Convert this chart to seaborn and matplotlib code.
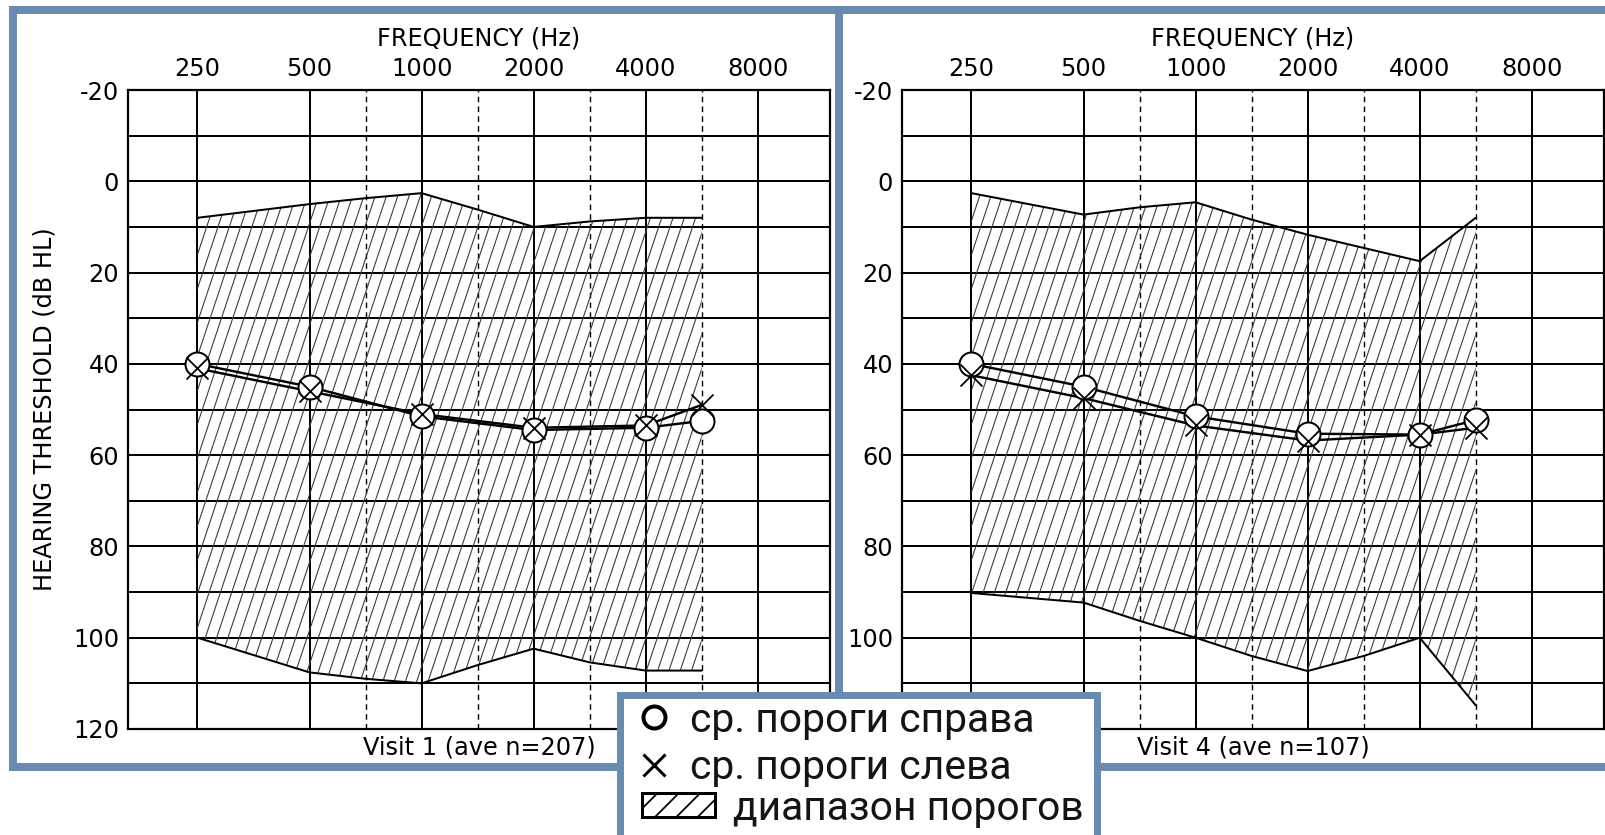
import numpy as np
import matplotlib
matplotlib.use("Agg")
import matplotlib.pyplot as plt
import seaborn as sns
from matplotlib.collections import LineCollection
from matplotlib.lines import Line2D
from matplotlib.patches import Rectangle, Patch
from matplotlib.ticker import FixedLocator, FixedFormatter, NullFormatter, NullLocator
from matplotlib import font_manager as fm

# ---------------- data ----------------
octave_freqs = [250, 500, 1000, 2000, 4000, 8000]
octave_labels = ["250", "500", "1000", "2000", "4000", "8000"]
mid_freqs = [750, 1500, 3000, 6000]
db_ticks = list(range(-20, 121, 10))
db_labels = ["-20", "", "0", "", "20", "", "40", "", "60", "", "80", "", "100", "", "120"]

range_freqs = [250, 500, 750, 1000, 1500, 2000, 3000, 4000, 6000]
visit1_best = [8, 5, 3.7, 2.6, 6.2, 10, 8.8, 8, 8]
visit1_worst = [100, 107.6, 109, 110, 106, 102.4, 105.4, 107.2, 107.2]
visit4_best = [2.6, 7.3, 5.7, 4.6, 8.4, 11.7, 14.6, 17.5, 8]
visit4_worst = [90.2, 92.3, 96.3, 100, 104, 107.3, 104, 100, 114.8]

mean_freqs = [250, 500, 1000, 2000, 4000, 6000]
visit1_right = [40, 45, 51.5, 54.5, 54, 52.5]
visit1_left = [41, 46, 51, 54, 53.5, 49]
visit4_right = [40, 45, 51.5, 55.3, 55.5, 52.3]
visit4_left = [42.5, 47.5, 53.5, 56.8, 55.5, 54]

visit_titles = ["Visit 1 (ave n=207)", "Visit 4 (ave n=107)"]
x_title = "FREQUENCY (Hz)"
y_title = "HEARING THRESHOLD (dB HL)"
legend_labels = ["ср. пороги справа", "ср. пороги слева", "диапазон порогов"]

# audiogram frequency axis: octaves equally spaced, half-octave
# frequencies (750, 1500, 3000, 6000) drawn midway between octaves
aud_freqs = np.array([250, 500, 750, 1000, 1500, 2000, 3000, 4000, 6000, 8000], float)
aud_pos = np.array([0, 1, 1.5, 2, 2.5, 3, 3.5, 4, 4.5, 5], float)
aud_log = np.log2(aud_freqs)


def aud_forward(f):
    f = np.asarray(f, float)
    with np.errstate(all="ignore"):
        lf = np.log2(np.clip(f, 1e-12, None))
    res = np.interp(lf, aud_log, aud_pos)
    lo = lf < aud_log[0]
    hi = lf > aud_log[-1]
    res = np.where(lo, aud_pos[0] + (lf - aud_log[0]), res)
    res = np.where(hi, aud_pos[-1] + (lf - aud_log[-1]), res)
    return res


def aud_inverse(p):
    p = np.asarray(p, float)
    lf = np.interp(p, aud_pos, aud_log)
    lf = np.where(p < aud_pos[0], aud_log[0] + (p - aud_pos[0]), lf)
    lf = np.where(p > aud_pos[-1], aud_log[-1] + (p - aud_pos[-1]), lf)
    return 2.0 ** lf


# ---------------- style ----------------
DPI = 128
W, H = 1605, 835
BLUE = "#6A8BB0"

sns.set_theme(style="white")
names = {f.name for f in fm.fontManager.ttflist}
if "Liberation Sans Narrow" in names:
    chart_font, chart_size = "Liberation Sans Narrow", 16.5
else:
    chart_font, chart_size = "DejaVu Sans", 13.5
plt.rcParams["font.family"] = [chart_font, "DejaVu Sans"]
legend_font = "Roboto" if "Roboto" in names else "DejaVu Sans"


def px(v):
    return v * 72.0 / DPI


fig = plt.figure(figsize=(W / DPI, H / DPI), dpi=DPI)
fig.patch.set_facecolor("white")

ax_boxes = [(128, 90, 702, 639), (902, 90, 702, 639)]
panels = [
    (visit1_best, visit1_worst, visit1_right, visit1_left, visit_titles[0], True),
    (visit4_best, visit4_worst, visit4_right, visit4_left, visit_titles[1], False),
]

for (l, t, w, h), (best, worst, right, left, title, first) in zip(ax_boxes, panels):
    ax = fig.add_axes([l / W, 1 - (t + h) / H, w / W, h / H])
    ax.set_facecolor("white")
    ax.set_xscale("function", functions=(aud_forward, aud_inverse))

    # range region with steep custom hatching
    poly = ax.fill_between(range_freqs, best, worst, facecolor="none",
                           edgecolor="none", zorder=2)
    slant = (h / 3.0) / w
    step = 11.3 / w
    xs = np.arange(-slant - step, 1 + step, step)
    segs = [[(x, 0.0), (x + slant, 1.0)] for x in xs]
    lc = LineCollection(segs, transform=ax.transAxes, colors="#3c3c3c",
                        linewidths=px(1.1), zorder=2)
    lc.set_clip_path(poly.get_paths()[0], ax.transData)
    ax.add_collection(lc, autolim=False)

    sns.lineplot(x=range_freqs, y=best, ax=ax, color="black", lw=px(2), zorder=3)
    sns.lineplot(x=range_freqs, y=worst, ax=ax, color="black", lw=px(2), zorder=3)

    # mean thresholds
    sns.lineplot(x=mean_freqs, y=right, ax=ax, color="black", lw=px(2.4), zorder=4)
    sns.lineplot(x=mean_freqs, y=left, ax=ax, color="black", lw=px(2.4), zorder=4)
    sns.scatterplot(x=mean_freqs, y=right, ax=ax, marker="o", s=px(24) ** 2,
                    facecolor="white", edgecolor="black", linewidth=px(2), zorder=5)
    sns.scatterplot(x=mean_freqs, y=left, ax=ax, marker="x", s=px(22) ** 2,
                    color="black", linewidth=px(1.8), zorder=6)

    ax.set_xlim(aud_inverse(-0.62), aud_inverse(5.645))
    ax.set_ylim(120, -20)

    ax.xaxis.set_major_locator(FixedLocator(octave_freqs))
    ax.xaxis.set_major_formatter(FixedFormatter(octave_labels))
    ax.xaxis.set_minor_locator(FixedLocator(mid_freqs))
    ax.xaxis.set_minor_formatter(NullFormatter())
    ax.yaxis.set_major_locator(FixedLocator(db_ticks))
    # the right panel's lowest label is hidden behind the legend box
    ylabels = db_labels if first else db_labels[:-1] + [""]
    ax.yaxis.set_major_formatter(FixedFormatter(ylabels))
    ax.yaxis.set_minor_locator(NullLocator())

    ax.grid(True, which="major", color="black", lw=px(2))
    ax.grid(True, which="minor", axis="x", color="black", lw=px(1.4),
            linestyle=(0, (4, 3)))
    ax.set_axisbelow(True)
    ax.xaxis.tick_top()
    ax.tick_params(which="both", length=0, labelsize=chart_size, colors="black")
    ax.tick_params(axis="x", pad=px(9))
    ax.tick_params(axis="y", pad=px(9))
    for sp in ax.spines.values():
        sp.set_color("black")
        sp.set_linewidth(px(2.2))

    ax.set_xlabel(x_title, fontsize=chart_size, color="black")
    ax.xaxis.set_label_position("top")
    ax.xaxis.set_label_coords(0.5, 1 + (90 - 45) / h)
    if first:
        ax.set_ylabel(y_title, fontsize=chart_size, color="black")
        ax.yaxis.set_label_coords(-(128 - 57) / w, 0.5)
    else:
        ax.set_ylabel("")
    ax.text(0.5, -(747 - 729) / h, title, transform=ax.transAxes, ha="center",
            va="center", fontsize=chart_size, color="black")

# blue panel frames
fig.add_artist(Rectangle((13 / W, 1 - 767 / H), (839 - 13) / W, (767 - 10) / H,
                         transform=fig.transFigure, fill=False, edgecolor=BLUE,
                         lw=px(8), zorder=3))
fig.add_artist(Rectangle((839 / W, 1 - 767 / H), (1640 - 839) / W, (767 - 10) / H,
                         transform=fig.transFigure, fill=False, edgecolor=BLUE,
                         lw=px(8), zorder=3))

# legend box
fig.add_artist(Rectangle((620 / W, 1 - 845 / H), (1097 - 620) / W, (845 - 694.5) / H,
                         transform=fig.transFigure, facecolor="white", edgecolor=BLUE,
                         lw=px(7), zorder=10))

lsize = 23
handles_a = [
    Line2D([], [], marker="o", ls="none", mfc="white", mec="black", ms=px(22), mew=px(4)),
    Line2D([], [], marker="x", ls="none", color="black", ms=px(22), mew=px(3)),
]
leg_a = fig.legend(handles=handles_a, labels=legend_labels[:2], loc="center left",
                   bbox_to_anchor=(640 / W, 1 - 744 / H), frameon=False, borderpad=0,
                   borderaxespad=0, handlelength=0.68, handletextpad=0.55,
                   labelspacing=0.22, prop={"family": legend_font, "size": lsize})
leg_a.set_zorder(11)
for txt in leg_a.get_texts():
    txt.set_color("#141414")

handles_b = [Patch(facecolor="white", edgecolor="black", hatch="//", lw=px(3))]
leg_b = fig.legend(handles=handles_b, labels=legend_labels[2:], loc="center left",
                   bbox_to_anchor=(642 / W, 1 - 808 / H), frameon=False, borderpad=0,
                   borderaxespad=0, handlelength=1.78, handleheight=0.55,
                   handletextpad=0.45, prop={"family": legend_font, "size": lsize})
leg_b.set_zorder(11)
for txt in leg_b.get_texts():
    txt.set_color("#141414")

fig.savefig("out.png", dpi=DPI, facecolor="white")
